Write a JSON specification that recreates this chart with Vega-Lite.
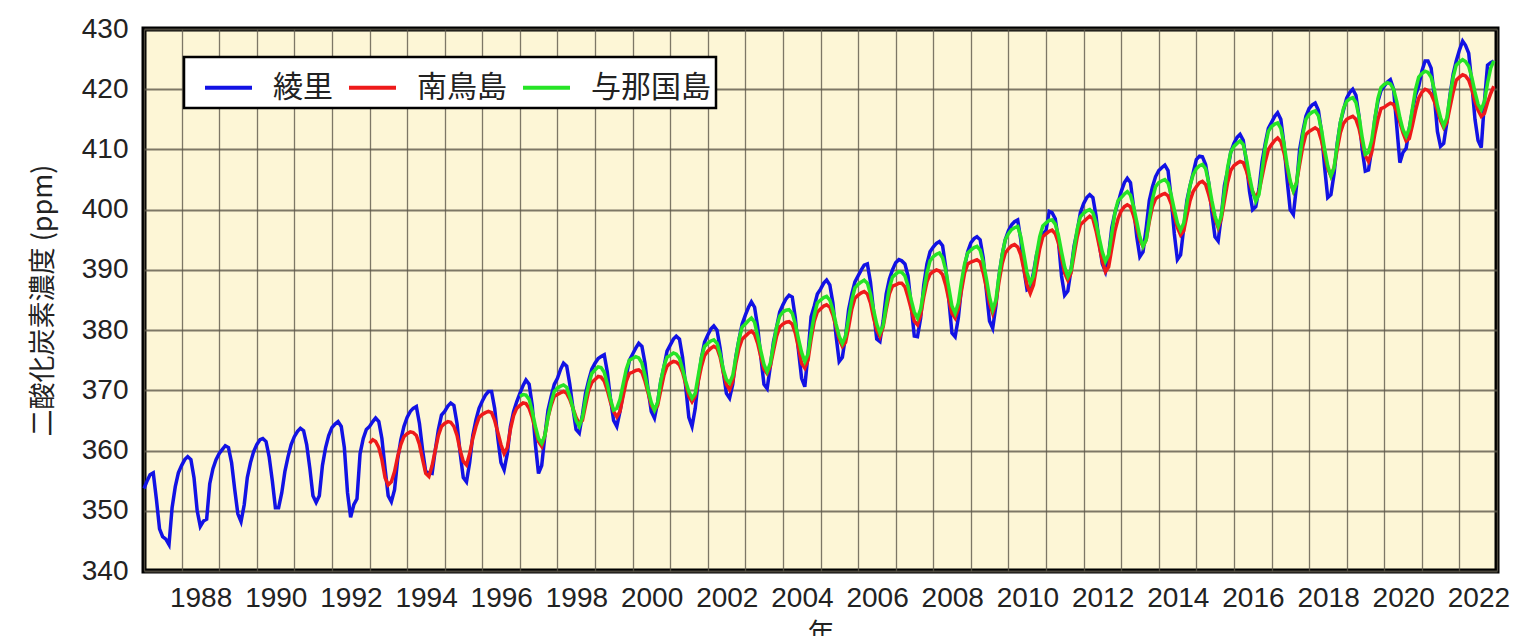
{
  "$schema": "https://vega.github.io/schema/vega-lite/v6.json",
  "width": 1353,
  "height": 542,
  "autosize": {"type": "none"},
  "padding": {"left": 144, "top": 29, "right": 39, "bottom": 65},
  "background": "white",
  "datasets": {
    "ryori": [
      {"t":"1987-01","v":353.7},{"t":"1987-02","v":355.0},{"t":"1987-03","v":356.0},{"t":"1987-04","v":356.3},{"t":"1987-05","v":352.0},{"t":"1987-06","v":347.0},{"t":"1987-07","v":345.7},{"t":"1987-08","v":345.3},{"t":"1987-09","v":344.4},{"t":"1987-10","v":350.5},{"t":"1987-11","v":354.0},{"t":"1987-12","v":356.3},
      {"t":"1988-01","v":357.5},{"t":"1988-02","v":358.5},{"t":"1988-03","v":359.0},{"t":"1988-04","v":358.5},{"t":"1988-05","v":355.5},{"t":"1988-06","v":350.0},{"t":"1988-07","v":347.4},{"t":"1988-08","v":348.3},{"t":"1988-09","v":348.6},{"t":"1988-10","v":354.5},{"t":"1988-11","v":357.0},{"t":"1988-12","v":358.5},
      {"t":"1989-01","v":359.5},{"t":"1989-02","v":360.2},{"t":"1989-03","v":360.8},{"t":"1989-04","v":360.5},{"t":"1989-05","v":358.0},{"t":"1989-06","v":353.5},{"t":"1989-07","v":349.5},{"t":"1989-08","v":348.2},{"t":"1989-09","v":351.0},{"t":"1989-10","v":355.5},{"t":"1989-11","v":358.0},{"t":"1989-12","v":359.8},
      {"t":"1990-01","v":361.0},{"t":"1990-02","v":361.8},{"t":"1990-03","v":362.0},{"t":"1990-04","v":361.5},{"t":"1990-05","v":359.0},{"t":"1990-06","v":355.0},{"t":"1990-07","v":350.5},{"t":"1990-08","v":350.5},{"t":"1990-09","v":353.0},{"t":"1990-10","v":356.5},{"t":"1990-11","v":359.0},{"t":"1990-12","v":361.0},
      {"t":"1991-01","v":362.3},{"t":"1991-02","v":363.2},{"t":"1991-03","v":363.7},{"t":"1991-04","v":363.3},{"t":"1991-05","v":361.0},{"t":"1991-06","v":357.0},{"t":"1991-07","v":352.5},{"t":"1991-08","v":351.4},{"t":"1991-09","v":352.5},{"t":"1991-10","v":357.5},{"t":"1991-11","v":360.5},{"t":"1991-12","v":362.5},
      {"t":"1992-01","v":363.8},{"t":"1992-02","v":364.4},{"t":"1992-03","v":364.8},{"t":"1992-04","v":364.0},{"t":"1992-05","v":360.5},{"t":"1992-06","v":353.0},{"t":"1992-07","v":348.9},{"t":"1992-08","v":351.0},{"t":"1992-09","v":352.0},{"t":"1992-10","v":359.5},{"t":"1992-11","v":362.0},{"t":"1992-12","v":363.5},
      {"t":"1993-01","v":364.0},{"t":"1993-02","v":364.8},{"t":"1993-03","v":365.4},{"t":"1993-04","v":364.8},{"t":"1993-05","v":362.0},{"t":"1993-06","v":357.0},{"t":"1993-07","v":352.5},{"t":"1993-08","v":351.5},{"t":"1993-09","v":353.5},{"t":"1993-10","v":358.5},{"t":"1993-11","v":361.8},{"t":"1993-12","v":364.0},
      {"t":"1994-01","v":365.5},{"t":"1994-02","v":366.5},{"t":"1994-03","v":367.0},{"t":"1994-04","v":367.3},{"t":"1994-05","v":364.5},{"t":"1994-06","v":360.0},{"t":"1994-07","v":356.5},{"t":"1994-08","v":356.3},{"t":"1994-09","v":356.2},{"t":"1994-10","v":360.0},{"t":"1994-11","v":363.5},{"t":"1994-12","v":365.9},
      {"t":"1995-01","v":366.5},{"t":"1995-02","v":367.4},{"t":"1995-03","v":367.9},{"t":"1995-04","v":367.5},{"t":"1995-05","v":364.5},{"t":"1995-06","v":359.5},{"t":"1995-07","v":355.5},{"t":"1995-08","v":354.8},{"t":"1995-09","v":358.0},{"t":"1995-10","v":362.5},{"t":"1995-11","v":365.1},{"t":"1995-12","v":367.0},
      {"t":"1996-01","v":368.2},{"t":"1996-02","v":369.2},{"t":"1996-03","v":369.8},{"t":"1996-04","v":369.8},{"t":"1996-05","v":367.0},{"t":"1996-06","v":362.0},{"t":"1996-07","v":358.0},{"t":"1996-08","v":356.8},{"t":"1996-09","v":359.5},{"t":"1996-10","v":364.0},{"t":"1996-11","v":366.5},{"t":"1996-12","v":368.1},
      {"t":"1997-01","v":369.5},{"t":"1997-02","v":370.8},{"t":"1997-03","v":371.7},{"t":"1997-04","v":371.0},{"t":"1997-05","v":367.5},{"t":"1997-06","v":361.0},{"t":"1997-07","v":356.2},{"t":"1997-08","v":357.5},{"t":"1997-09","v":362.5},{"t":"1997-10","v":366.7},{"t":"1997-11","v":369.0},{"t":"1997-12","v":371.0},
      {"t":"1998-01","v":372.0},{"t":"1998-02","v":373.5},{"t":"1998-03","v":374.5},{"t":"1998-04","v":374.0},{"t":"1998-05","v":371.0},{"t":"1998-06","v":367.0},{"t":"1998-07","v":363.5},{"t":"1998-08","v":362.9},{"t":"1998-09","v":366.0},{"t":"1998-10","v":369.5},{"t":"1998-11","v":371.7},{"t":"1998-12","v":373.5},
      {"t":"1999-01","v":374.5},{"t":"1999-02","v":375.3},{"t":"1999-03","v":375.6},{"t":"1999-04","v":375.9},{"t":"1999-05","v":373.0},{"t":"1999-06","v":368.5},{"t":"1999-07","v":365.0},{"t":"1999-08","v":364.0},{"t":"1999-09","v":366.5},{"t":"1999-10","v":369.5},{"t":"1999-11","v":372.3},{"t":"1999-12","v":375.0},
      {"t":"2000-01","v":376.0},{"t":"2000-02","v":377.0},{"t":"2000-03","v":377.8},{"t":"2000-04","v":377.3},{"t":"2000-05","v":374.5},{"t":"2000-06","v":370.0},{"t":"2000-07","v":366.5},{"t":"2000-08","v":365.4},{"t":"2000-09","v":368.0},{"t":"2000-10","v":371.5},{"t":"2000-11","v":373.9},{"t":"2000-12","v":376.5},
      {"t":"2001-01","v":377.5},{"t":"2001-02","v":378.5},{"t":"2001-03","v":379.0},{"t":"2001-04","v":378.5},{"t":"2001-05","v":375.5},{"t":"2001-06","v":370.5},{"t":"2001-07","v":365.5},{"t":"2001-08","v":364.0},{"t":"2001-09","v":367.0},{"t":"2001-10","v":371.7},{"t":"2001-11","v":375.5},{"t":"2001-12","v":378.0},
      {"t":"2002-01","v":379.2},{"t":"2002-02","v":380.2},{"t":"2002-03","v":380.7},{"t":"2002-04","v":380.0},{"t":"2002-05","v":377.0},{"t":"2002-06","v":373.0},{"t":"2002-07","v":369.5},{"t":"2002-08","v":368.7},{"t":"2002-09","v":371.0},{"t":"2002-10","v":375.6},{"t":"2002-11","v":378.5},{"t":"2002-12","v":381.0},
      {"t":"2003-01","v":382.5},{"t":"2003-02","v":383.8},{"t":"2003-03","v":384.7},{"t":"2003-04","v":383.8},{"t":"2003-05","v":380.5},{"t":"2003-06","v":375.5},{"t":"2003-07","v":371.0},{"t":"2003-08","v":370.3},{"t":"2003-09","v":374.0},{"t":"2003-10","v":378.0},{"t":"2003-11","v":380.5},{"t":"2003-12","v":383.0},
      {"t":"2004-01","v":384.2},{"t":"2004-02","v":385.2},{"t":"2004-03","v":385.8},{"t":"2004-04","v":385.5},{"t":"2004-05","v":382.0},{"t":"2004-06","v":376.5},{"t":"2004-07","v":372.0},{"t":"2004-08","v":370.6},{"t":"2004-09","v":376.0},{"t":"2004-10","v":382.2},{"t":"2004-11","v":384.0},{"t":"2004-12","v":386.0},
      {"t":"2005-01","v":386.8},{"t":"2005-02","v":387.8},{"t":"2005-03","v":388.3},{"t":"2005-04","v":387.5},{"t":"2005-05","v":384.5},{"t":"2005-06","v":379.0},{"t":"2005-07","v":374.8},{"t":"2005-08","v":375.5},{"t":"2005-09","v":379.0},{"t":"2005-10","v":383.4},{"t":"2005-11","v":386.0},{"t":"2005-12","v":388.0},
      {"t":"2006-01","v":389.0},{"t":"2006-02","v":390.0},{"t":"2006-03","v":390.8},{"t":"2006-04","v":391.0},{"t":"2006-05","v":388.0},{"t":"2006-06","v":383.0},{"t":"2006-07","v":378.5},{"t":"2006-08","v":378.1},{"t":"2006-09","v":381.5},{"t":"2006-10","v":386.0},{"t":"2006-11","v":388.5},{"t":"2006-12","v":390.0},
      {"t":"2007-01","v":391.2},{"t":"2007-02","v":391.7},{"t":"2007-03","v":391.5},{"t":"2007-04","v":391.0},{"t":"2007-05","v":389.0},{"t":"2007-06","v":384.0},{"t":"2007-07","v":379.0},{"t":"2007-08","v":378.9},{"t":"2007-09","v":382.0},{"t":"2007-10","v":387.5},{"t":"2007-11","v":391.0},{"t":"2007-12","v":393.0},
      {"t":"2008-01","v":393.8},{"t":"2008-02","v":394.4},{"t":"2008-03","v":394.7},{"t":"2008-04","v":394.0},{"t":"2008-05","v":390.5},{"t":"2008-06","v":385.0},{"t":"2008-07","v":379.5},{"t":"2008-08","v":378.9},{"t":"2008-09","v":382.0},{"t":"2008-10","v":387.0},{"t":"2008-11","v":390.6},{"t":"2008-12","v":393.0},
      {"t":"2009-01","v":394.5},{"t":"2009-02","v":395.2},{"t":"2009-03","v":395.5},{"t":"2009-04","v":395.0},{"t":"2009-05","v":392.0},{"t":"2009-06","v":386.5},{"t":"2009-07","v":381.5},{"t":"2009-08","v":380.3},{"t":"2009-09","v":384.0},{"t":"2009-10","v":389.0},{"t":"2009-11","v":392.5},{"t":"2009-12","v":395.0},
      {"t":"2010-01","v":396.5},{"t":"2010-02","v":397.5},{"t":"2010-03","v":398.0},{"t":"2010-04","v":398.3},{"t":"2010-05","v":395.0},{"t":"2010-06","v":390.0},{"t":"2010-07","v":386.7},{"t":"2010-08","v":387.0},{"t":"2010-09","v":389.5},{"t":"2010-10","v":392.5},{"t":"2010-11","v":394.5},{"t":"2010-12","v":396.0},
      {"t":"2011-01","v":396.5},{"t":"2011-02","v":399.7},{"t":"2011-03","v":399.5},{"t":"2011-04","v":398.5},{"t":"2011-05","v":395.0},{"t":"2011-06","v":389.0},{"t":"2011-07","v":385.8},{"t":"2011-08","v":386.5},{"t":"2011-09","v":390.0},{"t":"2011-10","v":394.0},{"t":"2011-11","v":396.5},{"t":"2011-12","v":399.5},
      {"t":"2012-01","v":401.0},{"t":"2012-02","v":402.0},{"t":"2012-03","v":402.5},{"t":"2012-04","v":402.0},{"t":"2012-05","v":399.0},{"t":"2012-06","v":394.5},{"t":"2012-07","v":391.0},{"t":"2012-08","v":389.7},{"t":"2012-09","v":392.5},{"t":"2012-10","v":397.0},{"t":"2012-11","v":399.5},{"t":"2012-12","v":401.1},
      {"t":"2013-01","v":403.0},{"t":"2013-02","v":404.5},{"t":"2013-03","v":405.2},{"t":"2013-04","v":404.5},{"t":"2013-05","v":400.5},{"t":"2013-06","v":395.5},{"t":"2013-07","v":392.2},{"t":"2013-08","v":393.0},{"t":"2013-09","v":397.0},{"t":"2013-10","v":401.5},{"t":"2013-11","v":403.8},{"t":"2013-12","v":405.5},
      {"t":"2014-01","v":406.5},{"t":"2014-02","v":407.0},{"t":"2014-03","v":407.4},{"t":"2014-04","v":406.5},{"t":"2014-05","v":402.0},{"t":"2014-06","v":396.0},{"t":"2014-07","v":391.7},{"t":"2014-08","v":392.5},{"t":"2014-09","v":397.0},{"t":"2014-10","v":401.5},{"t":"2014-11","v":404.0},{"t":"2014-12","v":406.1},
      {"t":"2015-01","v":408.3},{"t":"2015-02","v":408.9},{"t":"2015-03","v":408.8},{"t":"2015-04","v":407.5},{"t":"2015-05","v":404.5},{"t":"2015-06","v":399.5},{"t":"2015-07","v":395.5},{"t":"2015-08","v":394.8},{"t":"2015-09","v":399.0},{"t":"2015-10","v":404.0},{"t":"2015-11","v":406.5},{"t":"2015-12","v":409.5},
      {"t":"2016-01","v":411.0},{"t":"2016-02","v":412.0},{"t":"2016-03","v":412.5},{"t":"2016-04","v":411.5},{"t":"2016-05","v":408.0},{"t":"2016-06","v":403.0},{"t":"2016-07","v":400.0},{"t":"2016-08","v":400.5},{"t":"2016-09","v":403.5},{"t":"2016-10","v":408.0},{"t":"2016-11","v":411.0},{"t":"2016-12","v":413.5},
      {"t":"2017-01","v":414.5},{"t":"2017-02","v":415.5},{"t":"2017-03","v":416.1},{"t":"2017-04","v":415.0},{"t":"2017-05","v":411.0},{"t":"2017-06","v":405.0},{"t":"2017-07","v":400.0},{"t":"2017-08","v":399.2},{"t":"2017-09","v":404.0},{"t":"2017-10","v":410.0},{"t":"2017-11","v":413.0},{"t":"2017-12","v":415.5},
      {"t":"2018-01","v":416.8},{"t":"2018-02","v":417.4},{"t":"2018-03","v":417.7},{"t":"2018-04","v":416.5},{"t":"2018-05","v":413.0},{"t":"2018-06","v":407.0},{"t":"2018-07","v":402.0},{"t":"2018-08","v":402.5},{"t":"2018-09","v":406.0},{"t":"2018-10","v":411.0},{"t":"2018-11","v":414.5},{"t":"2018-12","v":416.5},
      {"t":"2019-01","v":418.5},{"t":"2019-02","v":419.5},{"t":"2019-03","v":420.0},{"t":"2019-04","v":419.0},{"t":"2019-05","v":415.5},{"t":"2019-06","v":410.0},{"t":"2019-07","v":406.4},{"t":"2019-08","v":406.6},{"t":"2019-09","v":410.0},{"t":"2019-10","v":415.0},{"t":"2019-11","v":418.0},{"t":"2019-12","v":419.8},
      {"t":"2020-01","v":420.5},{"t":"2020-02","v":421.2},{"t":"2020-03","v":421.6},{"t":"2020-04","v":420.0},{"t":"2020-05","v":414.0},{"t":"2020-06","v":407.8},{"t":"2020-07","v":409.5},{"t":"2020-08","v":410.2},{"t":"2020-09","v":413.5},{"t":"2020-10","v":416.5},{"t":"2020-11","v":419.0},{"t":"2020-12","v":420.5},
      {"t":"2021-01","v":423.0},{"t":"2021-02","v":424.7},{"t":"2021-03","v":424.7},{"t":"2021-04","v":423.5},{"t":"2021-05","v":419.0},{"t":"2021-06","v":413.0},{"t":"2021-07","v":410.5},{"t":"2021-08","v":411.0},{"t":"2021-09","v":414.5},{"t":"2021-10","v":419.0},{"t":"2021-11","v":422.5},{"t":"2021-12","v":424.7},
      {"t":"2022-01","v":426.5},{"t":"2022-02","v":428.0},{"t":"2022-03","v":427.3},{"t":"2022-04","v":426.0},{"t":"2022-05","v":421.0},{"t":"2022-06","v":415.0},{"t":"2022-07","v":411.5},{"t":"2022-08","v":410.3},{"t":"2022-09","v":418.0},{"t":"2022-10","v":424.0},{"t":"2022-11","v":424.4},{"t":"2022-12","v":424.7}
    ],
    "minamitorishima": [
      {"t":"1993-01","v":361.2},{"t":"1993-02","v":361.8},{"t":"1993-03","v":361.5},{"t":"1993-04","v":360.5},{"t":"1993-05","v":358.5},{"t":"1993-06","v":355.5},{"t":"1993-07","v":354.3},{"t":"1993-08","v":354.8},{"t":"1993-09","v":356.5},{"t":"1993-10","v":359.0},{"t":"1993-11","v":361.0},{"t":"1993-12","v":362.3},
      {"t":"1994-01","v":362.8},{"t":"1994-02","v":363.1},{"t":"1994-03","v":363.0},{"t":"1994-04","v":362.5},{"t":"1994-05","v":361.0},{"t":"1994-06","v":358.5},{"t":"1994-07","v":356.2},{"t":"1994-08","v":355.7},{"t":"1994-09","v":357.5},{"t":"1994-10","v":360.0},{"t":"1994-11","v":362.5},{"t":"1994-12","v":364.0},
      {"t":"1995-01","v":364.5},{"t":"1995-02","v":364.8},{"t":"1995-03","v":364.7},{"t":"1995-04","v":364.0},{"t":"1995-05","v":362.5},{"t":"1995-06","v":360.0},{"t":"1995-07","v":358.2},{"t":"1995-08","v":357.6},{"t":"1995-09","v":359.5},{"t":"1995-10","v":362.0},{"t":"1995-11","v":364.0},{"t":"1995-12","v":365.5},
      {"t":"1996-01","v":366.0},{"t":"1996-02","v":366.3},{"t":"1996-03","v":366.5},{"t":"1996-04","v":366.3},{"t":"1996-05","v":365.0},{"t":"1996-06","v":363.0},{"t":"1996-07","v":361.0},{"t":"1996-08","v":359.5},{"t":"1996-09","v":360.5},{"t":"1996-10","v":363.5},{"t":"1996-11","v":365.8},{"t":"1996-12","v":367.0},
      {"t":"1997-01","v":367.5},{"t":"1997-02","v":367.9},{"t":"1997-03","v":367.8},{"t":"1997-04","v":367.0},{"t":"1997-05","v":365.5},{"t":"1997-06","v":363.5},{"t":"1997-07","v":361.5},{"t":"1997-08","v":360.7},{"t":"1997-09","v":362.5},{"t":"1997-10","v":365.5},{"t":"1997-11","v":367.5},{"t":"1997-12","v":369.0},
      {"t":"1998-01","v":369.3},{"t":"1998-02","v":369.6},{"t":"1998-03","v":369.8},{"t":"1998-04","v":369.5},{"t":"1998-05","v":368.5},{"t":"1998-06","v":367.0},{"t":"1998-07","v":365.5},{"t":"1998-08","v":364.5},{"t":"1998-09","v":365.0},{"t":"1998-10","v":367.5},{"t":"1998-11","v":370.0},{"t":"1998-12","v":371.3},
      {"t":"1999-01","v":371.8},{"t":"1999-02","v":372.3},{"t":"1999-03","v":372.2},{"t":"1999-04","v":371.5},{"t":"1999-05","v":370.0},{"t":"1999-06","v":368.0},{"t":"1999-07","v":366.5},{"t":"1999-08","v":365.6},{"t":"1999-09","v":366.5},{"t":"1999-10","v":369.0},{"t":"1999-11","v":371.5},{"t":"1999-12","v":372.8},
      {"t":"2000-01","v":373.0},{"t":"2000-02","v":373.3},{"t":"2000-03","v":373.4},{"t":"2000-04","v":373.0},{"t":"2000-05","v":371.5},{"t":"2000-06","v":369.5},{"t":"2000-07","v":367.5},{"t":"2000-08","v":366.7},{"t":"2000-09","v":367.5},{"t":"2000-10","v":370.0},{"t":"2000-11","v":372.5},{"t":"2000-12","v":374.0},
      {"t":"2001-01","v":374.5},{"t":"2001-02","v":374.8},{"t":"2001-03","v":374.7},{"t":"2001-04","v":374.2},{"t":"2001-05","v":373.0},{"t":"2001-06","v":371.0},{"t":"2001-07","v":369.0},{"t":"2001-08","v":368.1},{"t":"2001-09","v":369.0},{"t":"2001-10","v":371.5},{"t":"2001-11","v":374.0},{"t":"2001-12","v":375.8},
      {"t":"2002-01","v":376.5},{"t":"2002-02","v":377.0},{"t":"2002-03","v":377.3},{"t":"2002-04","v":377.0},{"t":"2002-05","v":375.5},{"t":"2002-06","v":373.0},{"t":"2002-07","v":371.0},{"t":"2002-08","v":370.1},{"t":"2002-09","v":371.5},{"t":"2002-10","v":374.5},{"t":"2002-11","v":377.0},{"t":"2002-12","v":378.5},
      {"t":"2003-01","v":379.0},{"t":"2003-02","v":379.5},{"t":"2003-03","v":379.8},{"t":"2003-04","v":379.3},{"t":"2003-05","v":377.8},{"t":"2003-06","v":375.5},{"t":"2003-07","v":373.5},{"t":"2003-08","v":372.8},{"t":"2003-09","v":374.0},{"t":"2003-10","v":376.5},{"t":"2003-11","v":379.0},{"t":"2003-12","v":380.5},
      {"t":"2004-01","v":381.0},{"t":"2004-02","v":381.3},{"t":"2004-03","v":381.4},{"t":"2004-04","v":381.0},{"t":"2004-05","v":379.5},{"t":"2004-06","v":377.0},{"t":"2004-07","v":374.5},{"t":"2004-08","v":373.7},{"t":"2004-09","v":375.0},{"t":"2004-10","v":378.5},{"t":"2004-11","v":381.5},{"t":"2004-12","v":383.0},
      {"t":"2005-01","v":383.5},{"t":"2005-02","v":384.0},{"t":"2005-03","v":384.2},{"t":"2005-04","v":383.8},{"t":"2005-05","v":382.5},{"t":"2005-06","v":380.5},{"t":"2005-07","v":378.5},{"t":"2005-08","v":377.3},{"t":"2005-09","v":378.0},{"t":"2005-10","v":380.5},{"t":"2005-11","v":383.5},{"t":"2005-12","v":385.3},
      {"t":"2006-01","v":385.8},{"t":"2006-02","v":386.2},{"t":"2006-03","v":386.4},{"t":"2006-04","v":386.0},{"t":"2006-05","v":384.5},{"t":"2006-06","v":382.0},{"t":"2006-07","v":380.0},{"t":"2006-08","v":378.9},{"t":"2006-09","v":380.5},{"t":"2006-10","v":383.4},{"t":"2006-11","v":386.0},{"t":"2006-12","v":387.3},
      {"t":"2007-01","v":387.5},{"t":"2007-02","v":387.8},{"t":"2007-03","v":387.8},{"t":"2007-04","v":387.2},{"t":"2007-05","v":385.5},{"t":"2007-06","v":383.5},{"t":"2007-07","v":381.5},{"t":"2007-08","v":380.9},{"t":"2007-09","v":382.5},{"t":"2007-10","v":385.5},{"t":"2007-11","v":388.0},{"t":"2007-12","v":389.3},
      {"t":"2008-01","v":389.7},{"t":"2008-02","v":390.0},{"t":"2008-03","v":389.8},{"t":"2008-04","v":389.2},{"t":"2008-05","v":387.5},{"t":"2008-06","v":385.0},{"t":"2008-07","v":382.8},{"t":"2008-08","v":382.0},{"t":"2008-09","v":383.5},{"t":"2008-10","v":386.5},{"t":"2008-11","v":389.5},{"t":"2008-12","v":391.0},
      {"t":"2009-01","v":391.3},{"t":"2009-02","v":391.5},{"t":"2009-03","v":391.7},{"t":"2009-04","v":391.3},{"t":"2009-05","v":389.5},{"t":"2009-06","v":387.0},{"t":"2009-07","v":384.5},{"t":"2009-08","v":382.8},{"t":"2009-09","v":384.5},{"t":"2009-10","v":388.0},{"t":"2009-11","v":391.0},{"t":"2009-12","v":392.8},
      {"t":"2010-01","v":393.5},{"t":"2010-02","v":394.0},{"t":"2010-03","v":394.2},{"t":"2010-04","v":393.8},{"t":"2010-05","v":392.5},{"t":"2010-06","v":390.0},{"t":"2010-07","v":387.5},{"t":"2010-08","v":386.1},{"t":"2010-09","v":387.5},{"t":"2010-10","v":390.5},{"t":"2010-11","v":393.5},{"t":"2010-12","v":395.5},
      {"t":"2011-01","v":396.0},{"t":"2011-02","v":396.4},{"t":"2011-03","v":396.6},{"t":"2011-04","v":396.0},{"t":"2011-05","v":394.5},{"t":"2011-06","v":392.0},{"t":"2011-07","v":389.5},{"t":"2011-08","v":388.3},{"t":"2011-09","v":389.5},{"t":"2011-10","v":392.5},{"t":"2011-11","v":395.5},{"t":"2011-12","v":397.5},
      {"t":"2012-01","v":398.0},{"t":"2012-02","v":398.5},{"t":"2012-03","v":398.9},{"t":"2012-04","v":398.5},{"t":"2012-05","v":396.5},{"t":"2012-06","v":394.0},{"t":"2012-07","v":391.5},{"t":"2012-08","v":389.7},{"t":"2012-09","v":390.5},{"t":"2012-10","v":393.5},{"t":"2012-11","v":396.5},{"t":"2012-12","v":398.5},
      {"t":"2013-01","v":399.8},{"t":"2013-02","v":400.5},{"t":"2013-03","v":400.8},{"t":"2013-04","v":400.5},{"t":"2013-05","v":399.0},{"t":"2013-06","v":397.0},{"t":"2013-07","v":395.0},{"t":"2013-08","v":393.9},{"t":"2013-09","v":395.0},{"t":"2013-10","v":398.0},{"t":"2013-11","v":400.5},{"t":"2013-12","v":401.8},
      {"t":"2014-01","v":402.2},{"t":"2014-02","v":402.5},{"t":"2014-03","v":402.7},{"t":"2014-04","v":402.3},{"t":"2014-05","v":401.0},{"t":"2014-06","v":399.0},{"t":"2014-07","v":397.0},{"t":"2014-08","v":395.8},{"t":"2014-09","v":396.5},{"t":"2014-10","v":399.0},{"t":"2014-11","v":401.5},{"t":"2014-12","v":403.0},
      {"t":"2015-01","v":403.8},{"t":"2015-02","v":404.5},{"t":"2015-03","v":404.7},{"t":"2015-04","v":404.2},{"t":"2015-05","v":402.5},{"t":"2015-06","v":400.5},{"t":"2015-07","v":398.5},{"t":"2015-08","v":397.0},{"t":"2015-09","v":398.5},{"t":"2015-10","v":401.5},{"t":"2015-11","v":404.5},{"t":"2015-12","v":406.5},
      {"t":"2016-01","v":407.3},{"t":"2016-02","v":407.7},{"t":"2016-03","v":408.0},{"t":"2016-04","v":407.8},{"t":"2016-05","v":406.5},{"t":"2016-06","v":404.5},{"t":"2016-07","v":403.0},{"t":"2016-08","v":402.0},{"t":"2016-09","v":403.0},{"t":"2016-10","v":405.5},{"t":"2016-11","v":408.0},{"t":"2016-12","v":410.0},
      {"t":"2017-01","v":410.8},{"t":"2017-02","v":411.5},{"t":"2017-03","v":411.9},{"t":"2017-04","v":411.3},{"t":"2017-05","v":409.5},{"t":"2017-06","v":407.0},{"t":"2017-07","v":404.5},{"t":"2017-08","v":403.1},{"t":"2017-09","v":404.5},{"t":"2017-10","v":407.5},{"t":"2017-11","v":410.5},{"t":"2017-12","v":412.5},
      {"t":"2018-01","v":413.0},{"t":"2018-02","v":413.3},{"t":"2018-03","v":413.6},{"t":"2018-04","v":413.2},{"t":"2018-05","v":411.5},{"t":"2018-06","v":409.0},{"t":"2018-07","v":406.8},{"t":"2018-08","v":405.6},{"t":"2018-09","v":407.0},{"t":"2018-10","v":410.0},{"t":"2018-11","v":412.8},{"t":"2018-12","v":414.3},
      {"t":"2019-01","v":415.0},{"t":"2019-02","v":415.3},{"t":"2019-03","v":415.5},{"t":"2019-04","v":415.0},{"t":"2019-05","v":413.5},{"t":"2019-06","v":411.0},{"t":"2019-07","v":409.0},{"t":"2019-08","v":408.0},{"t":"2019-09","v":409.5},{"t":"2019-10","v":412.5},{"t":"2019-11","v":415.0},{"t":"2019-12","v":416.8},
      {"t":"2020-01","v":417.0},{"t":"2020-02","v":417.4},{"t":"2020-03","v":417.7},{"t":"2020-04","v":417.5},{"t":"2020-05","v":416.3},{"t":"2020-06","v":414.5},{"t":"2020-07","v":412.8},{"t":"2020-08","v":411.4},{"t":"2020-09","v":411.8},{"t":"2020-10","v":414.0},{"t":"2020-11","v":416.5},{"t":"2020-12","v":418.5},
      {"t":"2021-01","v":419.5},{"t":"2021-02","v":420.0},{"t":"2021-03","v":419.8},{"t":"2021-04","v":419.2},{"t":"2021-05","v":418.0},{"t":"2021-06","v":416.5},{"t":"2021-07","v":414.8},{"t":"2021-08","v":413.6},{"t":"2021-09","v":414.5},{"t":"2021-10","v":417.0},{"t":"2021-11","v":419.5},{"t":"2021-12","v":421.5},
      {"t":"2022-01","v":422.0},{"t":"2022-02","v":422.4},{"t":"2022-03","v":422.2},{"t":"2022-04","v":421.5},{"t":"2022-05","v":420.0},{"t":"2022-06","v":418.0},{"t":"2022-07","v":416.5},{"t":"2022-08","v":415.5},{"t":"2022-09","v":416.0},{"t":"2022-10","v":417.8},{"t":"2022-11","v":419.3},{"t":"2022-12","v":420.5}
    ],
    "yonagunijima": [
      {"t":"1997-01","v":369.0},{"t":"1997-02","v":369.3},{"t":"1997-03","v":369.2},{"t":"1997-04","v":368.5},{"t":"1997-05","v":366.5},{"t":"1997-06","v":364.0},{"t":"1997-07","v":362.0},{"t":"1997-08","v":361.2},{"t":"1997-09","v":362.5},{"t":"1997-10","v":365.5},{"t":"1997-11","v":368.0},{"t":"1997-12","v":369.8},
      {"t":"1998-01","v":370.4},{"t":"1998-02","v":370.7},{"t":"1998-03","v":370.9},{"t":"1998-04","v":370.5},{"t":"1998-05","v":369.0},{"t":"1998-06","v":367.0},{"t":"1998-07","v":365.0},{"t":"1998-08","v":364.0},{"t":"1998-09","v":365.5},{"t":"1998-10","v":368.5},{"t":"1998-11","v":371.0},{"t":"1998-12","v":372.8},
      {"t":"1999-01","v":373.4},{"t":"1999-02","v":373.9},{"t":"1999-03","v":373.8},{"t":"1999-04","v":373.0},{"t":"1999-05","v":371.0},{"t":"1999-06","v":368.5},{"t":"1999-07","v":366.7},{"t":"1999-08","v":367.0},{"t":"1999-09","v":368.5},{"t":"1999-10","v":371.0},{"t":"1999-11","v":373.5},{"t":"1999-12","v":375.0},
      {"t":"2000-01","v":375.3},{"t":"2000-02","v":375.6},{"t":"2000-03","v":375.4},{"t":"2000-04","v":374.5},{"t":"2000-05","v":372.5},{"t":"2000-06","v":370.0},{"t":"2000-07","v":368.0},{"t":"2000-08","v":366.7},{"t":"2000-09","v":368.0},{"t":"2000-10","v":371.5},{"t":"2000-11","v":374.0},{"t":"2000-12","v":375.5},
      {"t":"2001-01","v":375.8},{"t":"2001-02","v":376.2},{"t":"2001-03","v":376.0},{"t":"2001-04","v":375.3},{"t":"2001-05","v":373.5},{"t":"2001-06","v":371.5},{"t":"2001-07","v":369.8},{"t":"2001-08","v":368.7},{"t":"2001-09","v":369.5},{"t":"2001-10","v":372.5},{"t":"2001-11","v":375.5},{"t":"2001-12","v":377.3},
      {"t":"2002-01","v":377.8},{"t":"2002-02","v":378.2},{"t":"2002-03","v":378.4},{"t":"2002-04","v":377.8},{"t":"2002-05","v":376.0},{"t":"2002-06","v":373.5},{"t":"2002-07","v":371.8},{"t":"2002-08","v":371.2},{"t":"2002-09","v":372.5},{"t":"2002-10","v":375.5},{"t":"2002-11","v":378.5},{"t":"2002-12","v":380.5},
      {"t":"2003-01","v":381.0},{"t":"2003-02","v":381.6},{"t":"2003-03","v":382.0},{"t":"2003-04","v":381.3},{"t":"2003-05","v":379.0},{"t":"2003-06","v":376.5},{"t":"2003-07","v":374.3},{"t":"2003-08","v":373.1},{"t":"2003-09","v":374.5},{"t":"2003-10","v":377.5},{"t":"2003-11","v":380.5},{"t":"2003-12","v":382.3},
      {"t":"2004-01","v":383.0},{"t":"2004-02","v":383.3},{"t":"2004-03","v":383.4},{"t":"2004-04","v":382.8},{"t":"2004-05","v":381.0},{"t":"2004-06","v":378.5},{"t":"2004-07","v":376.3},{"t":"2004-08","v":374.8},{"t":"2004-09","v":376.0},{"t":"2004-10","v":379.5},{"t":"2004-11","v":382.5},{"t":"2004-12","v":384.5},
      {"t":"2005-01","v":385.0},{"t":"2005-02","v":385.4},{"t":"2005-03","v":385.6},{"t":"2005-04","v":385.0},{"t":"2005-05","v":383.3},{"t":"2005-06","v":381.0},{"t":"2005-07","v":379.0},{"t":"2005-08","v":377.8},{"t":"2005-09","v":379.0},{"t":"2005-10","v":382.0},{"t":"2005-11","v":385.0},{"t":"2005-12","v":387.0},
      {"t":"2006-01","v":387.6},{"t":"2006-02","v":388.0},{"t":"2006-03","v":388.3},{"t":"2006-04","v":387.8},{"t":"2006-05","v":386.0},{"t":"2006-06","v":383.3},{"t":"2006-07","v":381.0},{"t":"2006-08","v":379.5},{"t":"2006-09","v":380.8},{"t":"2006-10","v":384.0},{"t":"2006-11","v":387.0},{"t":"2006-12","v":388.8},
      {"t":"2007-01","v":389.3},{"t":"2007-02","v":389.7},{"t":"2007-03","v":389.6},{"t":"2007-04","v":389.0},{"t":"2007-05","v":387.3},{"t":"2007-06","v":385.0},{"t":"2007-07","v":383.0},{"t":"2007-08","v":382.0},{"t":"2007-09","v":383.5},{"t":"2007-10","v":386.5},{"t":"2007-11","v":389.5},{"t":"2007-12","v":391.5},
      {"t":"2008-01","v":392.2},{"t":"2008-02","v":392.6},{"t":"2008-03","v":392.8},{"t":"2008-04","v":392.0},{"t":"2008-05","v":390.0},{"t":"2008-06","v":387.0},{"t":"2008-07","v":384.0},{"t":"2008-08","v":382.8},{"t":"2008-09","v":384.5},{"t":"2008-10","v":388.0},{"t":"2008-11","v":391.0},{"t":"2008-12","v":392.8},
      {"t":"2009-01","v":393.3},{"t":"2009-02","v":393.7},{"t":"2009-03","v":393.9},{"t":"2009-04","v":393.3},{"t":"2009-05","v":391.3},{"t":"2009-06","v":388.5},{"t":"2009-07","v":385.5},{"t":"2009-08","v":383.4},{"t":"2009-09","v":385.0},{"t":"2009-10","v":389.0},{"t":"2009-11","v":392.5},{"t":"2009-12","v":395.0},
      {"t":"2010-01","v":396.0},{"t":"2010-02","v":396.7},{"t":"2010-03","v":397.0},{"t":"2010-04","v":397.2},{"t":"2010-05","v":395.5},{"t":"2010-06","v":392.5},{"t":"2010-07","v":389.5},{"t":"2010-08","v":387.8},{"t":"2010-09","v":389.0},{"t":"2010-10","v":392.5},{"t":"2010-11","v":395.5},{"t":"2010-12","v":397.3},
      {"t":"2011-01","v":397.8},{"t":"2011-02","v":398.2},{"t":"2011-03","v":398.3},{"t":"2011-04","v":397.6},{"t":"2011-05","v":395.8},{"t":"2011-06","v":393.0},{"t":"2011-07","v":390.5},{"t":"2011-08","v":388.9},{"t":"2011-09","v":390.0},{"t":"2011-10","v":393.5},{"t":"2011-11","v":396.8},{"t":"2011-12","v":398.8},
      {"t":"2012-01","v":399.4},{"t":"2012-02","v":399.8},{"t":"2012-03","v":400.0},{"t":"2012-04","v":399.5},{"t":"2012-05","v":397.8},{"t":"2012-06","v":395.3},{"t":"2012-07","v":393.0},{"t":"2012-08","v":391.4},{"t":"2012-09","v":392.5},{"t":"2012-10","v":396.0},{"t":"2012-11","v":399.5},{"t":"2012-12","v":401.5},
      {"t":"2013-01","v":402.0},{"t":"2013-02","v":402.6},{"t":"2013-03","v":403.0},{"t":"2013-04","v":402.4},{"t":"2013-05","v":400.5},{"t":"2013-06","v":398.0},{"t":"2013-07","v":395.5},{"t":"2013-08","v":393.9},{"t":"2013-09","v":395.0},{"t":"2013-10","v":398.5},{"t":"2013-11","v":401.8},{"t":"2013-12","v":403.8},
      {"t":"2014-01","v":404.5},{"t":"2014-02","v":404.8},{"t":"2014-03","v":405.0},{"t":"2014-04","v":404.4},{"t":"2014-05","v":402.5},{"t":"2014-06","v":400.0},{"t":"2014-07","v":397.8},{"t":"2014-08","v":396.6},{"t":"2014-09","v":397.8},{"t":"2014-10","v":401.0},{"t":"2014-11","v":404.0},{"t":"2014-12","v":405.8},
      {"t":"2015-01","v":406.8},{"t":"2015-02","v":407.3},{"t":"2015-03","v":407.5},{"t":"2015-04","v":406.8},{"t":"2015-05","v":404.5},{"t":"2015-06","v":401.5},{"t":"2015-07","v":399.0},{"t":"2015-08","v":397.3},{"t":"2015-09","v":399.0},{"t":"2015-10","v":403.0},{"t":"2015-11","v":407.0},{"t":"2015-12","v":409.5},
      {"t":"2016-01","v":410.5},{"t":"2016-02","v":411.0},{"t":"2016-03","v":411.4},{"t":"2016-04","v":410.8},{"t":"2016-05","v":408.5},{"t":"2016-06","v":405.5},{"t":"2016-07","v":403.0},{"t":"2016-08","v":401.4},{"t":"2016-09","v":402.5},{"t":"2016-10","v":406.5},{"t":"2016-11","v":410.5},{"t":"2016-12","v":413.0},
      {"t":"2017-01","v":413.8},{"t":"2017-02","v":414.2},{"t":"2017-03","v":414.4},{"t":"2017-04","v":413.5},{"t":"2017-05","v":411.0},{"t":"2017-06","v":407.5},{"t":"2017-07","v":404.8},{"t":"2017-08","v":403.1},{"t":"2017-09","v":404.5},{"t":"2017-10","v":408.5},{"t":"2017-11","v":412.5},{"t":"2017-12","v":415.0},
      {"t":"2018-01","v":415.8},{"t":"2018-02","v":416.2},{"t":"2018-03","v":416.4},{"t":"2018-04","v":415.6},{"t":"2018-05","v":413.3},{"t":"2018-06","v":410.0},{"t":"2018-07","v":407.3},{"t":"2018-08","v":405.6},{"t":"2018-09","v":407.0},{"t":"2018-10","v":410.8},{"t":"2018-11","v":414.5},{"t":"2018-12","v":416.8},
      {"t":"2019-01","v":418.0},{"t":"2019-02","v":418.4},{"t":"2019-03","v":418.6},{"t":"2019-04","v":417.8},{"t":"2019-05","v":415.5},{"t":"2019-06","v":412.0},{"t":"2019-07","v":409.2},{"t":"2019-08","v":409.5},{"t":"2019-09","v":411.5},{"t":"2019-10","v":415.0},{"t":"2019-11","v":418.5},{"t":"2019-12","v":420.3},
      {"t":"2020-01","v":420.8},{"t":"2020-02","v":421.1},{"t":"2020-03","v":420.9},{"t":"2020-04","v":420.0},{"t":"2020-05","v":418.0},{"t":"2020-06","v":415.3},{"t":"2020-07","v":413.3},{"t":"2020-08","v":412.2},{"t":"2020-09","v":413.5},{"t":"2020-10","v":416.8},{"t":"2020-11","v":420.0},{"t":"2020-12","v":422.0},
      {"t":"2021-01","v":422.6},{"t":"2021-02","v":423.0},{"t":"2021-03","v":422.8},{"t":"2021-04","v":422.0},{"t":"2021-05","v":420.0},{"t":"2021-06","v":417.3},{"t":"2021-07","v":415.3},{"t":"2021-08","v":413.9},{"t":"2021-09","v":415.3},{"t":"2021-10","v":418.8},{"t":"2021-11","v":422.0},{"t":"2021-12","v":424.0},
      {"t":"2022-01","v":424.5},{"t":"2022-02","v":424.9},{"t":"2022-03","v":424.6},{"t":"2022-04","v":423.8},{"t":"2022-05","v":422.0},{"t":"2022-06","v":419.5},{"t":"2022-07","v":417.5},{"t":"2022-08","v":416.6},{"t":"2022-09","v":418.0},{"t":"2022-10","v":421.0},{"t":"2022-11","v":423.5},{"t":"2022-12","v":424.7}
    ]
  },
  "encoding": {
    "x": {
      "field": "t",
      "type": "temporal",
      "scale": {"type": "utc", "domain": [536457600000, 1672531200000]},
      "axis": {
        "title": "年",
        "tickCount": {"interval": "year", "step": 1},
        "labelExpr": "utcyear(datum.value) % 2 == 0 ? utcFormat(datum.value, '%Y') : ''",
        "labelOffset": 19,
        "labelPadding": 13,
        "labelFlush": false,
        "labelOverlap": false,
        "labelBound": false,
        "titlePadding": 9
      }
    },
    "y": {
      "field": "v",
      "type": "quantitative",
      "scale": {"domain": [340, 430], "nice": false, "zero": false},
      "axis": {
        "title": "二酸化炭素濃度 (ppm)",
        "values": [340, 350, 360, 370, 380, 390, 400, 410, 420, 430],
        "labelPadding": 16,
        "titlePadding": 24,
        "gridWidth": 2
      }
    }
  },
  "layer": [
    {
      "data": {"name": "ryori"},
      "mark": {"type": "line", "strokeWidth": 3.5},
      "encoding": {
        "color": {
          "datum": "綾里",
          "type": "nominal",
          "scale": {"domain": ["綾里", "南鳥島", "与那国島"], "range": ["#1212e4", "#ee1a1a", "#26e426"]},
          "legend": {
            "title": null,
            "orient": "none",
            "legendX": 40,
            "legendY": 28,
            "direction": "horizontal"
          }
        }
      }
    },
    {
      "data": {"name": "minamitorishima"},
      "mark": {"type": "line", "strokeWidth": 3.5},
      "encoding": {"color": {"datum": "南鳥島", "type": "nominal"}}
    },
    {
      "data": {"name": "yonagunijima"},
      "mark": {"type": "line", "strokeWidth": 3.5},
      "encoding": {"color": {"datum": "与那国島", "type": "nominal"}}
    }
  ],
  "config": {
    "view": {"stroke": "#000000", "strokeWidth": 5, "fill": "#fdf6d6"},
    "axis": {
      "domain": false,
      "ticks": false,
      "grid": true,
      "gridColor": "#5c584a",
      "gridWidth": 1.3,
      "gridOpacity": 0.8,
      "labelFont": "Liberation Sans",
      "labelFontSize": 28,
      "labelColor": "#222222",
      "titleFont": "Noto Sans CJK JP",
      "titleFontSize": 27,
      "titleFontWeight": "normal",
      "titleColor": "#222222"
    },
    "legend": {
      "fillColor": "#ffffff",
      "strokeColor": "#000000",
      "strokeWidth": 2.5,
      "padding": 5,
      "symbolType": "stroke",
      "symbolSize": 2209,
      "symbolStrokeWidth": 4,
      "symbolOffset": 14,
      "labelOffset": 19,
      "columnPadding": -19,
      "labelFont": "Noto Sans CJK JP",
      "labelFontSize": 30,
      "labelColor": "#222222"
    }
  }
}
